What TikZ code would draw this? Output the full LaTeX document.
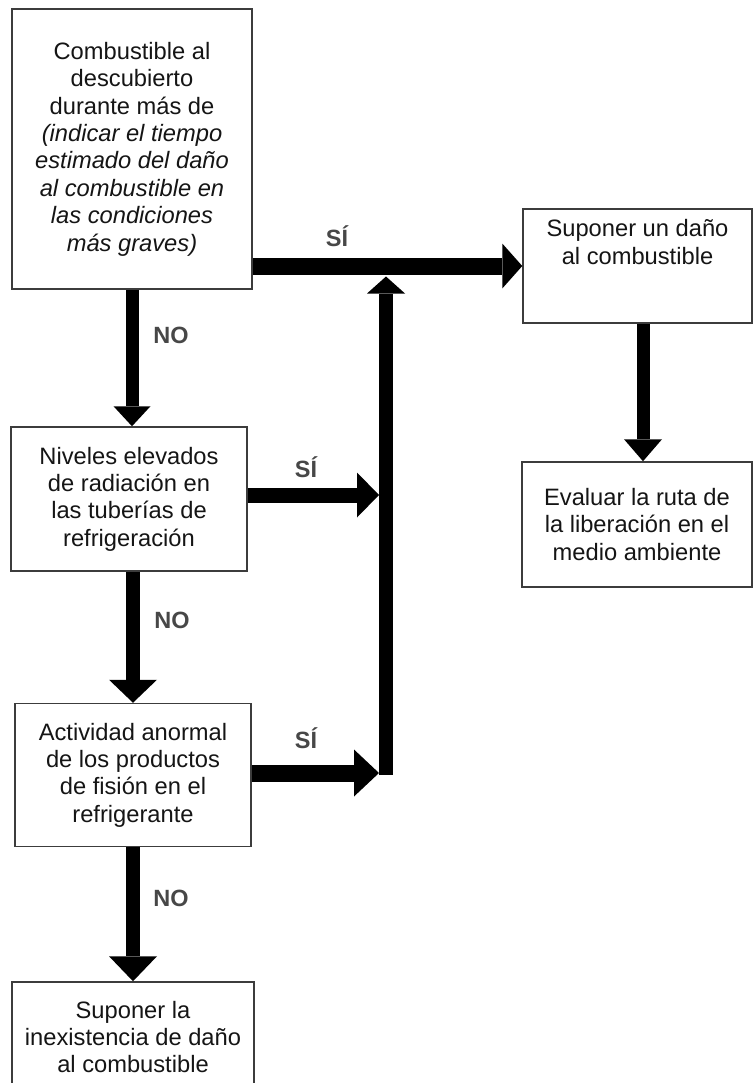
\documentclass[tikz,border=0pt]{standalone}
\usepackage{fontspec}
\setmainfont{Liberation Sans}
\usetikzlibrary{arrows.meta}
\definecolor{boxgray}{HTML}{3C3C3C}
\definecolor{textc}{HTML}{151515}
\definecolor{lblgray}{HTML}{474747}
\begin{document}
\begin{tikzpicture}[x=1pt,y=-1pt,
  box/.style={draw=boxgray, line width=1.5pt, fill=white, inner sep=0pt, align=center,
    font=\fontsize{23.7}{27.4}\selectfont, text=textc},
  txt/.style={inner sep=0pt, align=center, font=\fontsize{23.7}{27.4}\selectfont, text=textc},
  lbl/.style={font=\bfseries\fontsize{23.5}{27.4}\selectfont, text=lblgray},
  fat/.style args={#1/#2/#3}{draw=black, line width=#1pt, line cap=butt,
    -{Triangle[width=#2pt,length=#3pt,line width=0pt]}}
]
\useasboundingbox (0,0) rectangle (753,1083);
\clip (0,0) rectangle (753,1083);

% boxes
\node[box, minimum width=240, minimum height=280] (b1) at (132,149)
  {Combustible al\\descubierto\\durante más de\\\textit{(indicar el tiempo}\\\textit{estimado del daño}\\\textit{al combustible en}\\\textit{las condiciones}\\\textit{más graves)}};
\node[box, minimum width=236, minimum height=144] (b2) at (129,499)
  {Niveles elevados\\de radiación en\\las tuberías de\\refrigeración};
\node[box, minimum width=236, minimum height=143] (b3) at (133,775)
  {Actividad anormal\\de los productos\\de fisión en el\\refrigerante};
\node[box, minimum width=242, minimum height=110] (b4) at (133,1037)
  {Suponer la\\inexistencia de daño\\al combustible};
\node[box, minimum width=229, minimum height=114] (dano) at (637.5,266) {};
\node[txt] (danotxt) at (637.5,242) {Suponer un daño\\al combustible};
\node[box, minimum width=230, minimum height=125] (eval) at (637,524.5)
  {Evaluar la ruta de\\la liberación en el\\medio ambiente};

% helper coordinates
\coordinate (vbot) at (386,775);
\coordinate (vtop) at (386,276.5);
\coordinate (j2) at (379,495);
\coordinate (j3) at (379,773);
\coordinate (de) at (643,0);

% connectors
\draw[fat=13/37/20] (b1.south) -- (b1.south |- b2.north);
\draw[fat=14/48/23] (b3.north |- b2.south) -- (b3.north);
\draw[fat=14/48/25] (b3.south) -- (b3.south |- b4.north);
\draw[fat=17/45/20] (b1.east |- dano.west) -- (dano.west);
\draw[fat=14/38/17] (vbot) -- (vtop);
\draw[fat=15/45/22] (b2.east |- j2) -- (j2);
\draw[fat=17/47/25] (b3.east |- j3) -- (j3);
\draw[fat=13/38/22] (dano.south -| de) -- (eval.north -| de);

% labels
\node[lbl] (s1) at (337,236) {SÍ};
\node[lbl] (n1) at (171,335) {NO};
\node[lbl] (s2) at (306,467) {SÍ};
\node[lbl] (n2) at (172,620) {NO};
\node[lbl] (s3) at (306,738) {SÍ};
\node[lbl] (n3) at (171,898) {NO};
\end{tikzpicture}
\end{document}
